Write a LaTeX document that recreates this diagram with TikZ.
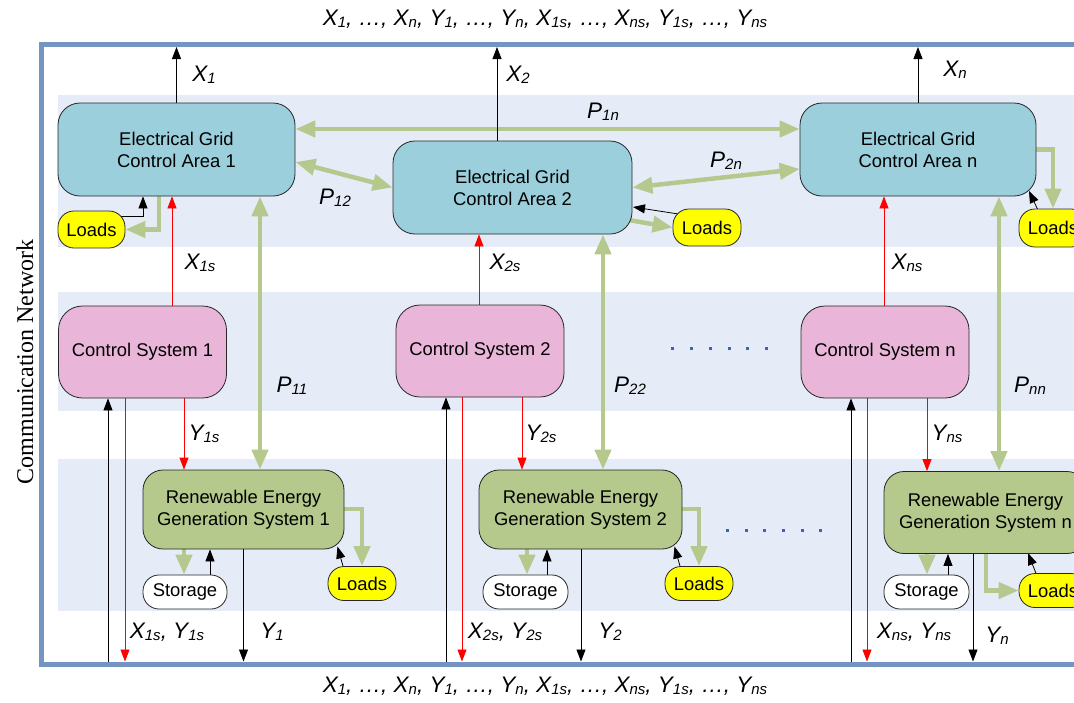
\documentclass[tikz,border=0pt]{standalone}
\usepackage{fontspec}
\setmainfont{Liberation Sans}
\newfontfamily\netserif{Liberation Serif}
\usetikzlibrary{arrows.meta,calc}
\pgfdeclarelayer{back}
\pgfdeclarelayer{conn}
\pgfsetlayers{back,conn,main}

\definecolor{bandc}{RGB}{230,236,247}
\definecolor{framec}{RGB}{116,149,194}
\definecolor{gridc}{RGB}{155,207,220}
\definecolor{ctrlc}{RGB}{233,181,216}
\definecolor{genc}{RGB}{180,201,139}
\definecolor{powc}{RGB}{181,201,142}
\definecolor{loadc}{RGB}{255,255,0}
\definecolor{dotc}{RGB}{58,102,176}

% variable with a small lowered index
\newcommand\vr[2]{#1\raisebox{-2.2pt}{\fontsize{15}{15}\selectfont #2}}

\tikzset{
  box/.style={draw=black!85, line width=0.8pt, inner sep=0pt, align=center,
    font=\fontsize{18.4}{22}\selectfont},
  gridbox/.style={box, fill=gridc, rounded corners=22pt, minimum width=237pt, minimum height=93pt},
  ctrlbox/.style={box, fill=ctrlc, rounded corners=24pt, minimum width=168pt, minimum height=92pt},
  genbox/.style={box, fill=genc, rounded corners=20pt, minimum width=201pt, minimum height=79pt},
  loadbox/.style={box, fill=loadc, rounded corners=16pt, minimum width=68pt, minimum height=37pt},
  storebox/.style={box, fill=white, rounded corners=16pt, minimum width=85pt, minimum height=34pt},
  vlab/.style={inner sep=0pt, font=\fontsize{22.5}{26}\selectfont\itshape},
  blk/.style={draw=black, line width=0.8pt, -{Triangle[width=9pt,length=12pt]}},
  redar/.style={draw=red, line width=0.8pt, -{Triangle[width=9pt,length=12pt]}},
  grnar/.style={draw=powc, line width=4.5pt, -{Triangle[width=16pt,length=20pt]}},
  grn2/.style={draw=powc, line width=4.5pt,
    {Triangle[width=16pt,length=20pt]}-{Triangle[width=16pt,length=20pt]}},
}

\begin{document}
\begin{tikzpicture}[x=1pt,y=-1pt]
\useasboundingbox (0,0) rectangle (1074,702);

% frame of the communication network and the three shaded rows
\begin{pgfonlayer}{back}
  \fill[bandc] (58,95) rectangle (1074,247);
  \fill[bandc] (58,292) rectangle (1074,411);
  \fill[bandc] (58,459) rectangle (1074,611);
  \draw[framec, line width=5pt] (41.5,44.5) rectangle (1110,664);
  \foreach \i in {0,...,5} {
    \fill[dotc] ({672.3+18.9*\i-1.5},346.5) rectangle ++(3,3);
    \fill[dotc] ({727.3+18.7*\i-1.5},528.5) rectangle ++(3,3);
  }
\end{pgfonlayer}

\coordinate (ftop) at (0,47);
\coordinate (fbot) at (0,661.5);

% grid control areas
\node[gridbox] (EG1) at (176.5,149.5) {Electrical Grid\\Control Area 1};
\node[gridbox, minimum width=239pt] (EG2) at (512.5,187.5) {Electrical Grid\\Control Area 2};
\node[gridbox, minimum width=236pt] (EGn) at (918,149.5) {Electrical Grid\\Control Area n};

% control systems
\node[ctrlbox] (CS1) at (142.5,352) {Control System 1};
\node[ctrlbox] (CS2) at (480,351) {Control System 2};
\node[ctrlbox] (CSn) at (885,352) {Control System n};

% renewable generation
\node[genbox] (RE1) at (243.5,509.5) {Renewable Energy\\Generation System 1};
\node[genbox, minimum width=203pt] (RE2) at (580.5,509.5) {Renewable Energy\\Generation System 2};
\node[genbox, minimum width=203pt, minimum height=82pt] (REn) at (985.5,512.5) {Renewable Energy\\Generation System n};

% loads and storage
\node[loadbox, minimum width=67pt] (L1) at (91.5,229.5) {Loads};
\node[loadbox] (L2) at (707,227.5) {Loads};
\node[loadbox, minimum height=38pt] (Ln) at (1053,228) {Loads};
\node[loadbox, minimum height=34pt] (LR1) at (362,583.5) {Loads};
\node[loadbox, minimum height=34pt] (LR2) at (699,583.5) {Loads};
\node[loadbox, minimum height=34pt] (LRn) at (1053,590.5) {Loads};
\node[storebox, minimum width=84pt] (S1) at (185,592) {Storage};
\node[storebox] (S2) at (525.5,592) {Storage};
\node[storebox] (Sn) at (926.5,592) {Storage};

\begin{pgfonlayer}{conn}
  % area 1
  \draw[blk] (EG1.center) -- (EG1.center |- ftop);
  \draw[blk] (L1.center |- 0,216) -| (EG1.south -| 143,0);
  \draw[grnar] (EG1.center -| 159,0) |- (L1.east);
  \draw[redar] (CS1.center -| 172,0) -- (EG1.south -| 172,0);
  \draw[grn2] (EG1.south -| 260,0) -- (RE1.north -| 260,0);
  \draw[redar] (CS1.center -| 184,0) -- (RE1.north -| 184,0);
  \draw[blk] (fbot -| 108,0) -- (CS1.south -| 108,0);
  \draw[redar] (CS1.center -| 125,0) -- (fbot -| 125,0);
  \draw[blk] (RE1.center) -- (RE1.center |- fbot);
  \draw[grnar] (RE1.center -| 184,0) -- (S1.north -| 184,0);
  \draw[blk] (S1.center -| 210,0) -- (RE1.south -| 210,0);
  \draw[grnar] (RE1.center |- 0,509) -| (LR1.north);
  \draw[blk] ($(LR1.center)+(-16.5,-8.5)$) -- ($(RE1.center)+(94,37)$);

  % tie lines between areas
  \draw[grn2] ($(EG1.east)+(0,12.5)$) -- (EG2.west);
  \draw[grn2] (EG1.east |- 0,129) -- (EGn.west |- 0,129);
  \draw[grn2] (EG2.east) -- ($(EGn.west)+(0,19.5)$);

  % area 2
  \draw[blk] (EG2.center -| 497,0) -- (ftop -| 497,0);
  \draw[redar] (CS2.center -| 479,0) -- (EG2.south -| 479,0);
  \draw[grn2] (EG2.south -| 603,0) -- (RE2.north -| 603,0);
  \draw[blk] ($(L2.center)+(-22,-12.5)$) -- ($(EG2.center)+(120.5,19.5)$);
  \draw[grnar] ($(EG2.center)+(92.5,28.5)$) -- (L2.west);
  \draw[redar] (CS2.center -| 522,0) -- (RE2.north -| 522,0);
  \draw[blk] (fbot -| 446,0) -- (CS2.south -| 446,0);
  \draw[redar] (CS2.center -| 462,0) -- (fbot -| 462,0);
  \draw[blk] (RE2.center -| 581,0) -- (fbot -| 581,0);
  \draw[grnar] (RE2.center -| 527,0) -- (S2.north -| 527,0);
  \draw[blk] (S2.center -| 547,0) -- (RE2.south -| 547,0);
  \draw[grnar] (RE2.center |- 0,509) -| (LR2.north);
  \draw[blk] ($(LR2.center)+(-16.5,-8.5)$) -- ($(RE2.center)+(94,37)$);

  % area n
  \draw[blk] (EGn.center) -- (EGn.center |- ftop);
  \draw[redar] (CSn.center -| 884,0) -- (EGn.south -| 884,0);
  \draw[grn2] (EGn.south -| 999,0) -- (REn.north -| 999,0);
  \draw[grnar] (EGn.center) -| (Ln.north);
  \draw[blk] ($(Ln.center)+(-12,-11.5)$) -- ($(EGn.center)+(111,41.5)$);
  \draw[redar] (CSn.center -| 927,0) -- (REn.north -| 927,0);
  \draw[blk] (fbot -| 851,0) -- (CSn.south -| 851,0);
  \draw[redar] (CSn.center -| 867,0) -- (fbot -| 867,0);
  \draw[blk] (REn.center -| 973,0) -- (fbot -| 973,0);
  \draw[grnar] (REn.center -| 927,0) -- (Sn.north -| 927,0);
  \draw[blk] (Sn.center -| 948,0) -- (REn.south -| 948,0);
  \draw[grnar] (REn.center -| 986,0) |- (LRn.west);
  \draw[blk] ($(LRn.center)+(-14,-9.5)$) -- ($(REn.center)+(42.5,40.5)$);
\end{pgfonlayer}

% signal and power labels
\node[vlab] (tX1) at (204,75) {\vr{X}{1}};
\node[vlab] (tX2) at (518,75) {\vr{X}{2}};
\node[vlab] (tXn) at (955,70) {\vr{X}{n}};
\node[vlab] (tP1n) at (603,112) {\vr{P}{1n}};
\node[vlab] (tP12) at (335,198) {\vr{P}{12}};
\node[vlab] (tP2n) at (726,161) {\vr{P}{2n}};
\node[vlab] (tX1s) at (200,263) {\vr{X}{1s}};
\node[vlab] (tX2s) at (505,263) {\vr{X}{2s}};
\node[vlab] (tXns) at (907,263) {\vr{X}{ns}};
\node[vlab] (tP11) at (292,386) {\vr{P}{11}};
\node[vlab] (tP22) at (630,386) {\vr{P}{22}};
\node[vlab] (tPnn) at (1030,386) {\vr{P}{nn}};
\node[vlab] (tY1s) at (204,434) {\vr{Y}{1s}};
\node[vlab] (tY2s) at (541,434) {\vr{Y}{2s}};
\node[vlab] (tYns) at (947,434) {\vr{Y}{ns}};
\node[vlab] (tB1) at (167,632) {\vr{X}{1s}, \vr{Y}{1s}};
\node[vlab] (tY1) at (272,632) {\vr{Y}{1}};
\node[vlab] (tB2) at (505,632) {\vr{X}{2s}, \vr{Y}{2s}};
\node[vlab] (tY2) at (610,632) {\vr{Y}{2}};
\node[vlab] (tBn) at (914,632) {\vr{X}{ns}, \vr{Y}{ns}};
\node[vlab] (tYn) at (997,636) {\vr{Y}{n}};

% network inputs and outputs
\node[vlab] (ttop) at (545,19) {\vr{X}{1}, …, \vr{X}{n}, \vr{Y}{1}, …, \vr{Y}{n}, \vr{X}{1s}, …, \vr{X}{ns}, \vr{Y}{1s}, …, \vr{Y}{ns}};
\node[vlab] (tbot) at (545,686) {\vr{X}{1}, …, \vr{X}{n}, \vr{Y}{1}, …, \vr{Y}{n}, \vr{X}{1s}, …, \vr{X}{ns}, \vr{Y}{1s}, …, \vr{Y}{ns}};

\node[rotate=90, inner sep=0pt, font=\netserif\fontsize{24}{24}\selectfont] (comm) at (25,362) {Communication Network};
\end{tikzpicture}
\end{document}
